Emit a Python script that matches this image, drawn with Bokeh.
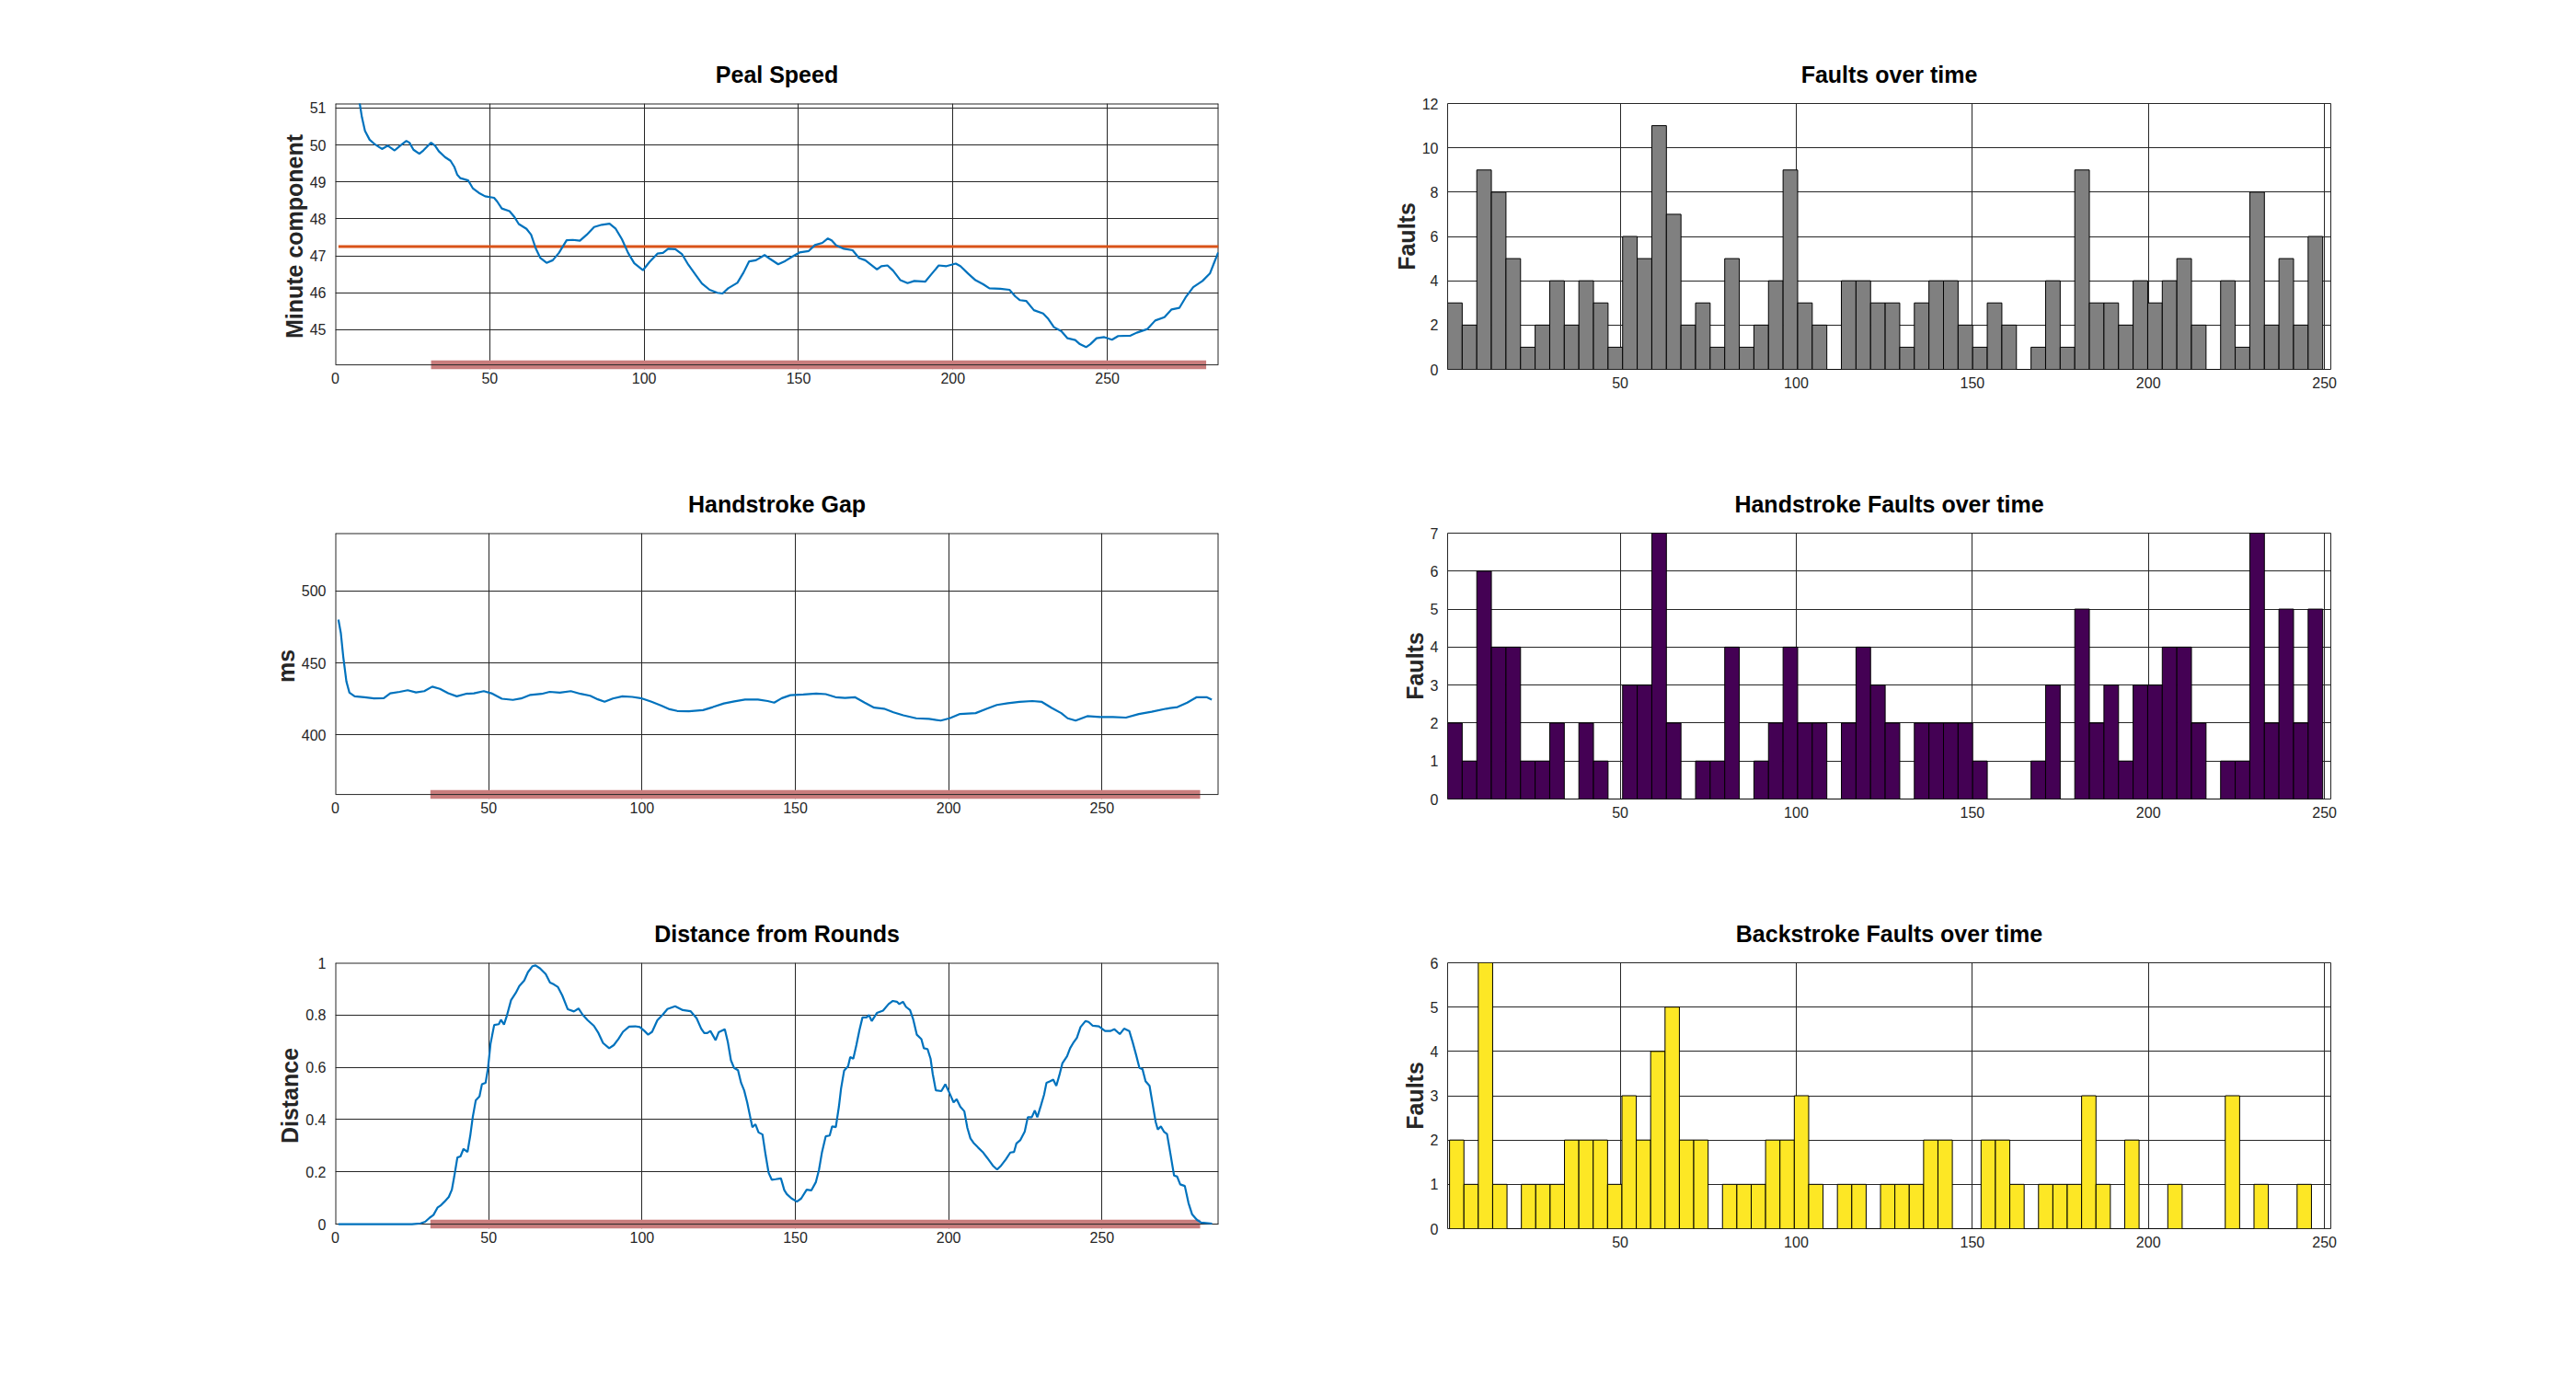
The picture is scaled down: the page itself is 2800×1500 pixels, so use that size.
from bokeh.plotting import figure
from bokeh.models import FixedTicker, Range1d
from bokeh.layouts import gridplot
from bokeh.embed import file_html
from bokeh.resources import INLINE
import numpy as np

# ---------------- data ----------------
peal_x = [1, 3, 5, 7, 7.9, 8.6, 9.6, 11.1, 12.6, 15.1,
          17.0, 19.2, 21.0, 23.0, 24.0, 25.3, 27.2, 28.5, 31.0, 32.3,
          33.5, 35.5, 37.3, 38.5, 39.5, 40.5, 43.0, 44.5, 46.5, 48.5,
          51.4, 52.4, 53.9, 56.4, 57.9, 59.4, 61.9, 63.4, 64.9, 66.4,
          68.4, 70.4, 72.4, 74.9, 76.9, 79.2, 81.4, 83.8, 86.3, 88.8,
          90.8, 92.8, 94.8, 96.8, 99.6, 101.8, 104.3, 106.1, 107.8, 110.1,
          112.3, 114.3, 116.8, 118.7, 121.2, 123.7, 125.4, 127.2, 130.2, 132.2,
          134.0, 136.2, 139.0, 140.7, 143.4, 145.7, 147.8, 150.3, 153.3, 155.3,
          157.7, 159.5, 160.7, 162.2, 164.7, 167.5, 169.6, 171.6, 173.6, 175.4,
          176.8, 178.8, 180.6, 183.0, 185.3, 187.5, 191.0, 193.0, 195.4, 197.9,
          200.9, 202.4, 204.9, 207.3, 209.8, 211.8, 215.3, 218.3, 220.2, 221.7,
          223.7, 226.2, 229.2, 230.7, 232.7, 235.1, 237.1, 239.6, 241.1, 243.1,
          244.5, 246.5, 249.0, 251.5, 253.5, 257.5, 259.5, 263.0, 265.5, 268.5,
          270.8, 273.3, 275.3, 277.8, 280.8, 283.2, 284.7, 285.9]
peal_y = [54.0, 52.8, 51.9, 51.35, 51.12, 50.75, 50.38, 50.14, 50.03, 49.89,
          49.98, 49.85, 49.98, 50.11, 50.06, 49.87, 49.76, 49.85, 50.06, 49.98,
          49.83, 49.67, 49.57, 49.41, 49.19, 49.10, 49.04, 48.83, 48.70, 48.61,
          48.57, 48.47, 48.28, 48.21, 48.06, 47.86, 47.73, 47.57, 47.20, 46.94,
          46.81, 46.88, 47.08, 47.42, 47.43, 47.41, 47.57, 47.78, 47.84, 47.87,
          47.73, 47.45, 47.08, 46.80, 46.61, 46.84, 47.06, 47.08, 47.19, 47.18,
          47.04, 46.76, 46.47, 46.25, 46.08, 46.00, 45.98, 46.12, 46.27, 46.55,
          46.85, 46.88, 47.02, 46.92, 46.77, 46.86, 46.97, 47.09, 47.13, 47.29,
          47.35, 47.47, 47.42, 47.28, 47.19, 47.15, 46.94, 46.88, 46.75, 46.63,
          46.72, 46.74, 46.60, 46.34, 46.26, 46.32, 46.30, 46.50, 46.74, 46.72,
          46.79, 46.72, 46.52, 46.34, 46.23, 46.12, 46.11, 46.08, 45.90, 45.80,
          45.78, 45.53, 45.44, 45.31, 45.07, 44.96, 44.77, 44.72, 44.61, 44.53,
          44.61, 44.77, 44.80, 44.73, 44.83, 44.84, 44.92, 45.02, 45.25, 45.34,
          45.55, 45.59, 45.87, 46.15, 46.32, 46.52, 46.84, 47.09]
peal_mean = 47.25

gap_x = [1, 1.8, 2.6, 3.6, 4.6, 6.3, 9.5, 12.6, 15.8, 17.9,
         21.0, 23.6, 26.3, 29.0, 31.6, 34.1, 36.8, 39.6, 42.5, 45.2,
         48.4, 50.9, 54.3, 57.9, 60.6, 63.6, 67.3, 69.9, 73.2, 76.8,
         80.0, 83.1, 85.6, 87.8, 90.5, 93.6, 96.8, 100.0, 103.1, 106.3,
         109.0, 111.5, 115.3, 119.9, 123.1, 126.7, 130.1, 133.6, 137.8, 141.0,
         143.1, 145.6, 148.4, 152.6, 156.8, 159.9, 163.1, 166.2, 169.4, 172.6,
         175.7, 178.9, 182.0, 185.2, 189.4, 193.6, 197.4, 200.3, 203.7, 208.8,
         212.5, 215.7, 219.3, 223.1, 227.3, 230.4, 233.6, 236.7, 238.8, 241.4,
         245.2, 249.4, 253.6, 257.8, 262.0, 266.2, 271.0, 274.6, 277.8, 280.9,
         284.1, 285.8]
gap_y = [480.1, 470.7, 454.0, 437.2, 429.3, 426.8, 426.1, 425.3, 425.5, 428.9,
         429.9, 431.0, 429.5, 430.4, 433.5, 432.0, 428.9, 426.8, 428.5, 428.9,
         430.4, 428.9, 425.1, 424.3, 425.3, 427.8, 428.5, 429.9, 429.3, 430.4,
         428.5, 427.2, 424.7, 423.0, 425.3, 426.8, 426.4, 425.3, 423.0, 420.3,
         417.8, 416.6, 416.4, 417.2, 419.3, 421.8, 423.3, 424.5, 424.5, 423.5,
         422.4, 425.5, 427.6, 428.1, 428.7, 428.3, 426.2, 425.7, 426.2, 422.4,
         418.9, 418.2, 415.7, 413.6, 411.5, 411.1, 409.9, 411.5, 414.5, 415.1,
         418.2, 420.8, 422.0, 422.9, 423.5, 422.9, 418.7, 415.1, 411.5, 409.9,
         413.0, 412.4, 412.4, 412.0, 414.5, 416.1, 418.2, 419.3, 422.4, 426.2,
         426.2, 424.5]

dist_x = [1, 25, 27.8, 29.3, 30.8, 32.0, 33.3, 34.3, 35.6, 37.0,
          38.0, 38.8, 39.8, 40.8, 41.8, 43.1, 44.0, 44.8, 45.8, 47.0,
          47.8, 49.0, 49.8, 50.6, 51.8, 53.3, 54.0, 55.0, 56.0, 57.3,
          58.8, 60.0, 61.6, 62.8, 64.3, 65.3, 66.8, 68.6, 70.0, 71.3,
          72.6, 74.0, 75.8, 77.8, 79.3, 80.6, 82.3, 84.3, 85.8, 87.3,
          89.3, 90.8, 92.3, 93.8, 95.8, 97.8, 99.3, 100.8, 102.0, 103.3,
          105.0, 106.8, 108.3, 110.8, 113.3, 115.8, 117.8, 119.3, 120.3, 121.3,
          122.3, 124.0, 125.0, 127.0, 128.0, 129.0, 130.0, 131.3, 132.3, 133.3,
          134.3, 135.3, 136.0, 137.0, 138.0, 139.3, 140.3, 141.3, 142.3, 143.6,
          145.3, 146.4, 147.2, 148.7, 150.5, 151.9, 153.7, 155.2, 156.7, 157.7,
          158.7, 159.9, 161.2, 162.0, 163.2, 164.2, 164.9, 165.9, 167.2, 167.9,
          168.9, 169.9, 170.9, 171.9, 173.2, 174.0, 174.9, 176.6, 178.6, 180.4,
          181.8, 183.1, 183.9, 185.1, 186.1, 187.4, 188.4, 189.6, 191.1, 191.9,
          193.1, 194.1, 194.8, 195.8, 197.6, 198.9, 200.1, 201.6, 202.6, 203.8,
          205.1, 206.1, 207.1, 208.1, 209.6, 211.1, 212.6, 214.4, 215.8, 217.1,
          218.6, 220.1, 221.3, 222.1, 223.4, 224.8, 225.8, 227.1, 228.1, 228.9,
          230.1, 231.1, 231.9, 233.1, 234.1, 235.1, 236.1, 237.1, 238.6, 239.6,
          240.6, 241.8, 243.0, 244.6, 245.6, 247.0, 249.0, 251.0, 252.7, 254.0,
          255.8, 257.2, 258.9, 260.0, 261.2, 262.2, 263.2, 264.2, 265.5, 266.5,
          267.5, 268.2, 269.2, 270.2, 271.2, 272.3, 273.5, 274.5, 275.5, 277.0,
          278.2, 279.4, 280.9, 282.3, 285.9]
dist_y = [0, 0, 0.003, 0.009, 0.025, 0.035, 0.063, 0.071, 0.086, 0.104,
          0.132, 0.184, 0.255, 0.259, 0.288, 0.276, 0.339, 0.409, 0.474, 0.489,
          0.535, 0.541, 0.598, 0.690, 0.762, 0.765, 0.782, 0.764, 0.800, 0.857,
          0.884, 0.911, 0.932, 0.964, 0.987, 0.990, 0.978, 0.957, 0.924, 0.917,
          0.907, 0.875, 0.822, 0.814, 0.825, 0.802, 0.780, 0.759, 0.731, 0.693,
          0.673, 0.685, 0.708, 0.736, 0.756, 0.757, 0.754, 0.739, 0.725, 0.736,
          0.780, 0.802, 0.823, 0.834, 0.819, 0.815, 0.788, 0.748, 0.731, 0.731,
          0.739, 0.704, 0.734, 0.746, 0.696, 0.627, 0.598, 0.589, 0.541, 0.512,
          0.466, 0.409, 0.371, 0.382, 0.351, 0.343, 0.265, 0.196, 0.170, 0.172,
          0.175, 0.130, 0.115, 0.099, 0.086, 0.098, 0.132, 0.129, 0.161, 0.207,
          0.276, 0.336, 0.339, 0.374, 0.371, 0.449, 0.518, 0.587, 0.604, 0.639,
          0.633, 0.685, 0.742, 0.791, 0.791, 0.800, 0.777, 0.808, 0.817, 0.842,
          0.854, 0.851, 0.842, 0.851, 0.831, 0.819, 0.785, 0.725, 0.708, 0.673,
          0.670, 0.633, 0.575, 0.512, 0.509, 0.535, 0.506, 0.466, 0.478, 0.449,
          0.432, 0.368, 0.328, 0.311, 0.293, 0.276, 0.253, 0.224, 0.209, 0.224,
          0.247, 0.274, 0.276, 0.309, 0.322, 0.354, 0.409, 0.409, 0.435, 0.409,
          0.455, 0.495, 0.541, 0.547, 0.553, 0.529, 0.570, 0.616, 0.642, 0.673,
          0.693, 0.713, 0.754, 0.777, 0.774, 0.759, 0.757, 0.739, 0.739, 0.746,
          0.727, 0.748, 0.739, 0.696, 0.644, 0.598, 0.593, 0.547, 0.529, 0.460,
          0.391, 0.362, 0.374, 0.354, 0.345, 0.270, 0.186, 0.182, 0.152, 0.146,
          0.081, 0.037, 0.017, 0.006, 0.002]

# highlighted span of rows, drawn as a bar along the x axis
span_start, span_end = 31, 282

faults = [3, 2, 9, 8, 5, 1, 2, 4, 2, 4, 3, 1, 6, 5, 11, 7, 2, 3, 1, 5,
          1, 2, 4, 9, 3, 2, 0, 4, 4, 3, 3, 1, 3, 4, 4, 2, 1, 3, 2, 0,
          1, 4, 1, 9, 3, 3, 2, 4, 3, 4, 5, 2, 0, 4, 1, 8, 2, 5, 2, 6]
faults_range = (1.0, 249.5)
hand_faults = [2, 1, 6, 4, 4, 1, 1, 2, 0, 2, 1, 0, 3, 3, 7, 2, 0, 1, 1, 4,
               0, 1, 2, 4, 2, 2, 0, 2, 4, 3, 2, 0, 2, 2, 2, 2, 1, 0, 0, 0,
               1, 3, 0, 5, 2, 3, 1, 3, 3, 4, 4, 2, 0, 1, 1, 7, 2, 5, 2, 5]
hand_range = (1.0, 249.5)
back_faults = [2, 1, 6, 1, 0, 1, 1, 1, 2, 2, 2, 1, 3, 2, 4, 5, 2, 2, 0, 1,
               1, 1, 2, 2, 3, 1, 0, 1, 1, 0, 1, 1, 1, 2, 2, 0, 0, 2, 2, 1,
               0, 1, 1, 1, 3, 1, 0, 2, 0, 0, 1, 0, 0, 0, 3, 0, 1, 0, 0, 1]
back_range = (1.55, 246.3)

line_xticks = [0, 50, 100, 150, 200, 250]
hist_xticks = [50, 100, 150, 200, 250]

# ---------------- styling ----------------
FONT = "Liberation Sans"
TXT = "#262626"
BLUE = "#0072BD"
ORANGE = "#D95319"
BAR_RED = "#C97D7D"
FRAME_W, FRAME_H = 960, 289
ROW_H = 467
TOP = 112
BAR_HALF = 5          # half thickness (px) of the highlight bar


def make_fig(title, ylabel, xr, yr, xticks, yticks, bl, br, ext_px=0):
    ext = ext_px * (yr[1] - yr[0]) / FRAME_H
    p = figure(width=bl + FRAME_W + br, height=ROW_H,
               x_range=Range1d(*xr), y_range=Range1d(yr[0] - ext, yr[1]),
               output_backend="svg", toolbar_location=None, tools="",
               min_border_left=bl, min_border_right=br,
               min_border_top=TOP, min_border_bottom=ROW_H - TOP - FRAME_H - ext_px)
    p.title.text = title
    p.title.align = "center"
    p.title.text_font = FONT
    p.title.text_font_size = "25px"
    p.title.text_font_style = "bold"
    p.title.text_color = "black"
    p.title.standoff = 36
    for ax in (p.xaxis[0], p.yaxis[0]):
        ax.axis_line_color = None
        ax.major_tick_line_color = None
        ax.minor_tick_line_color = None
        ax.major_tick_out = 0
        ax.major_tick_in = 0
        ax.minor_tick_out = 0
        ax.minor_tick_in = 0
        ax.major_label_text_font = FONT
        ax.major_label_text_font_size = "16px"
        ax.major_label_text_color = TXT
    p.xaxis[0].ticker = FixedTicker(ticks=xticks)
    p.yaxis[0].ticker = FixedTicker(ticks=yticks)
    p.xaxis[0].major_label_standoff = 8 - ext_px
    p.yaxis[0].major_label_standoff = 10
    p.yaxis[0].axis_label = ylabel
    p.yaxis[0].axis_label_text_font = FONT
    p.yaxis[0].axis_label_text_font_size = "25px"
    p.yaxis[0].axis_label_text_font_style = "bold"
    p.yaxis[0].axis_label_text_color = TXT
    p.yaxis[0].axis_label_standoff = 0
    p.xgrid.ticker = FixedTicker(ticks=xticks)
    p.ygrid.ticker = FixedTicker(ticks=yticks)
    for g in (p.xgrid[0], p.ygrid[0]):
        g.grid_line_color = TXT
        g.grid_line_width = 1
        g.grid_line_alpha = 1
    p.background_fill_color = "white"
    p.border_fill_color = "white"
    if ext_px:
        # frame drawn by hand so that the bar can straddle the bottom edge
        p.outline_line_color = None
        p.segment(x0=[xr[0], xr[1], xr[0]], y0=[yr[0], yr[0], yr[1]],
                  x1=[xr[0], xr[1], xr[1]], y1=[yr[1], yr[1], yr[1]],
                  line_color=TXT, line_width=2)
    else:
        p.outline_line_color = TXT
        p.outline_line_width = 1
        p.outline_line_alpha = 1
    return p


def add_span_bar(p, xr, yr):
    half = BAR_HALF * (yr[1] - yr[0]) / FRAME_H
    p.quad(left=[span_start], right=[span_end], bottom=[yr[0] - half],
           top=[yr[0] + half], fill_color=BAR_RED, line_color=None)
    p.segment(x0=[xr[0]], y0=[yr[0]], x1=[xr[1]], y1=[yr[0]],
              line_color=TXT, line_width=1)


def add_hist(p, counts, rng, color):
    edges = np.linspace(rng[0], rng[1], len(counts) + 1)
    p.quad(left=edges[:-1], right=edges[1:], bottom=0, top=counts,
           fill_color=color, line_color="black", line_width=1)


LB, LR = 364, 40
RB, RR = 209, 60

# Peal speed
xr1, yr1 = (0, 286), (44.05, 51.12)
p1 = make_fig("Peal Speed", "Minute component", xr1, yr1, line_xticks,
              [45, 46, 47, 48, 49, 50, 51], LB, LR, ext_px=BAR_HALF)
add_span_bar(p1, xr1, yr1)
p1.line([1, xr1[1]], [peal_mean, peal_mean], line_color=ORANGE, line_width=2.8)
p1.line(peal_x, peal_y, line_color=BLUE, line_width=2.2)

# Handstroke gap
xr2, yr2 = (0, 288), (358.5, 540.3)
p2 = make_fig("Handstroke Gap", "ms", xr2, yr2, line_xticks,
              [400, 450, 500], LB, LR, ext_px=BAR_HALF)
add_span_bar(p2, xr2, yr2)
p2.line(gap_x, gap_y, line_color=BLUE, line_width=2.2)

# Distance from rounds
xr3, yr3 = (0, 288), (0, 1)
p3 = make_fig("Distance from Rounds", "Distance", xr3, yr3, line_xticks,
              [0, 0.2, 0.4, 0.6, 0.8, 1], LB, LR, ext_px=BAR_HALF)
p3.yaxis[0].major_label_overrides = {0: "0", 1: "1"}
add_span_bar(p3, xr3, yr3)
p3.line(dist_x, dist_y, line_color=BLUE, line_width=2.2)

# Histograms
q1 = make_fig("Faults over time", "Faults", (1, 251.8), (0, 12), hist_xticks,
              [0, 2, 4, 6, 8, 10, 12], RB, RR)
add_hist(q1, faults, faults_range, "#808080")

q2 = make_fig("Handstroke Faults over time", "Faults", (1, 251.8), (0, 7),
              hist_xticks, [0, 1, 2, 3, 4, 5, 6, 7], RB, RR)
add_hist(q2, hand_faults, hand_range, "#440154")

q3 = make_fig("Backstroke Faults over time", "Faults", (1, 251.8), (0, 6),
              hist_xticks, [0, 1, 2, 3, 4, 5, 6], RB, RR)
add_hist(q3, back_faults, back_range, "#FDE725")

layout = gridplot([[p1, q1], [p2, q2], [p3, q3]], toolbar_location=None)

open("out.html", "w").write(file_html(layout, INLINE))
